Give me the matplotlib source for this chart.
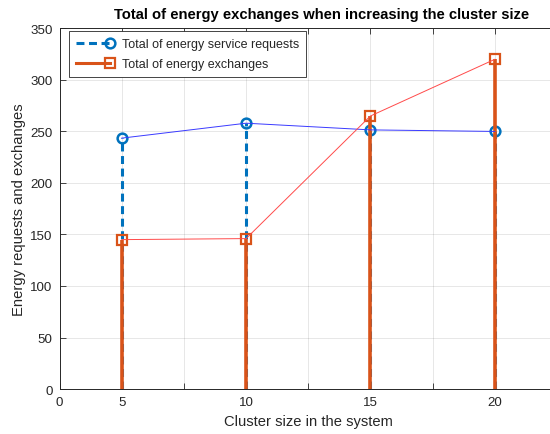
import numpy as np
import matplotlib
matplotlib.use("Agg")
import matplotlib.pyplot as plt
from matplotlib.lines import Line2D
from matplotlib.legend_handler import HandlerLine2D

# data
cluster_sizes = [5, 10, 15, 20]
service_requests = [243.5, 258, 251.5, 250]
energy_exchanges = [145, 146, 265, 320]

xtick_pos = [2.5, 5, 7.5, 10, 12.5, 15, 17.5, 20, 22.5]
xtick_labels = ["0", "5", "", "10", "", "15", "", "20", ""]
ytick_pos = [0, 50, 100, 150, 200, 250, 300, 350]

BLUE = "#0072BD"
ORANGE = "#D95319"
INK = "#262626"

plt.rcParams["font.family"] = ["Liberation Sans", "DejaVu Sans"]


class StemHandler(HandlerLine2D):
    # MATLAB-style stem legend icon: marker at the right end of the line
    def create_artists(self, legend, orig_handle, xdescent, ydescent,
                       width, height, fontsize, trans):
        arts = super().create_artists(legend, orig_handle, xdescent, ydescent,
                                      width, height, fontsize, trans)
        for a in arts:
            if isinstance(a, Line2D):
                n = len(a.get_xdata())
                a.set_markevery([n - 1])
        return arts


def main() -> None:
    fig = plt.figure(figsize=(5.5, 4.35), dpi=100)
    ax = fig.add_axes([0.1082, 0.1034, 0.9045, 0.829])

    dash = (0, (2.6, 1.5))

    # blue stems (dashed) with hollow circles
    m1, s1, b1 = ax.stem(cluster_sizes, service_requests, basefmt=" ")
    s1.set_color(BLUE)
    s1.set_linewidth(2.2)
    s1.set_linestyle(dash)
    m1.set_marker("o")
    m1.set_markersize(7)
    m1.set_markerfacecolor("none")
    m1.set_markeredgecolor(BLUE)
    m1.set_markeredgewidth(1.8)
    s1.set_zorder(3)
    m1.set_zorder(4)

    # orange stems (solid) with hollow squares
    m2, s2, b2 = ax.stem(cluster_sizes, energy_exchanges, basefmt=" ")
    s2.set_color(ORANGE)
    s2.set_linewidth(2.6)
    s2.set_linestyle("-")
    m2.set_marker("s")
    m2.set_markersize(7)
    m2.set_markerfacecolor("none")
    m2.set_markeredgecolor(ORANGE)
    m2.set_markeredgewidth(1.6)
    s2.set_zorder(5)
    m2.set_zorder(6)

    # thin connecting lines
    ax.plot(cluster_sizes, service_requests, color="#3a3aff", lw=0.7, zorder=7)
    ax.plot(cluster_sizes, energy_exchanges, color="#ff4a4a", lw=0.7, zorder=7)

    ax.set_xlim(2.5, 22.5)
    ax.set_ylim(0, 350)
    ax.set_xticks(xtick_pos)
    ax.set_xticklabels(xtick_labels)
    ax.set_yticks(ytick_pos)

    ax.grid(True, color=INK, alpha=0.13, lw=0.6)
    ax.set_axisbelow(True)
    ax.tick_params(direction="in", top=True, right=True, length=4,
                   width=0.6, colors=INK, labelsize=9.6, pad=5)
    for sp in ax.spines.values():
        sp.set_color(INK)
        sp.set_linewidth(0.7)

    ax.set_xlabel("Cluster size in the system", fontsize=10.6, color=INK,
                  labelpad=4)
    ax.set_ylabel("Energy requests and exchanges", fontsize=10.6, color=INK,
                  labelpad=3)
    fig.text(322 / 550, 1 - 15 / 435,
             "Total of energy exchanges when increasing the cluster size",
             ha="center", va="center", fontsize=10.6, fontweight="bold",
             color="black")

    h1 = Line2D([], [], color=BLUE, lw=2.2, linestyle=dash, marker="o",
                ms=7, mfc="none", mec=BLUE, mew=1.8)
    h2 = Line2D([], [], color=ORANGE, lw=2.2, linestyle="-", marker="s",
                ms=7, mfc="none", mec=ORANGE, mew=1.6)
    leg = ax.legend([h1, h2],
                    ["Total of energy service requests",
                     "Total of energy exchanges"],
                    handler_map={h1: StemHandler(), h2: StemHandler()},
                    loc="upper left", bbox_to_anchor=(0.019, 0.992),
                    borderaxespad=0, fontsize=9.0, handlelength=2.7,
                    handletextpad=1.0, labelspacing=0.62, borderpad=0.55,
                    fancybox=False, framealpha=1)
    leg.get_frame().set_edgecolor(INK)
    leg.get_frame().set_linewidth(0.6)
    leg.set_zorder(10)
    for t in leg.get_texts():
        t.set_color(INK)

    fig.savefig("out.png", dpi=100)


if __name__ == "__main__":
    main()
